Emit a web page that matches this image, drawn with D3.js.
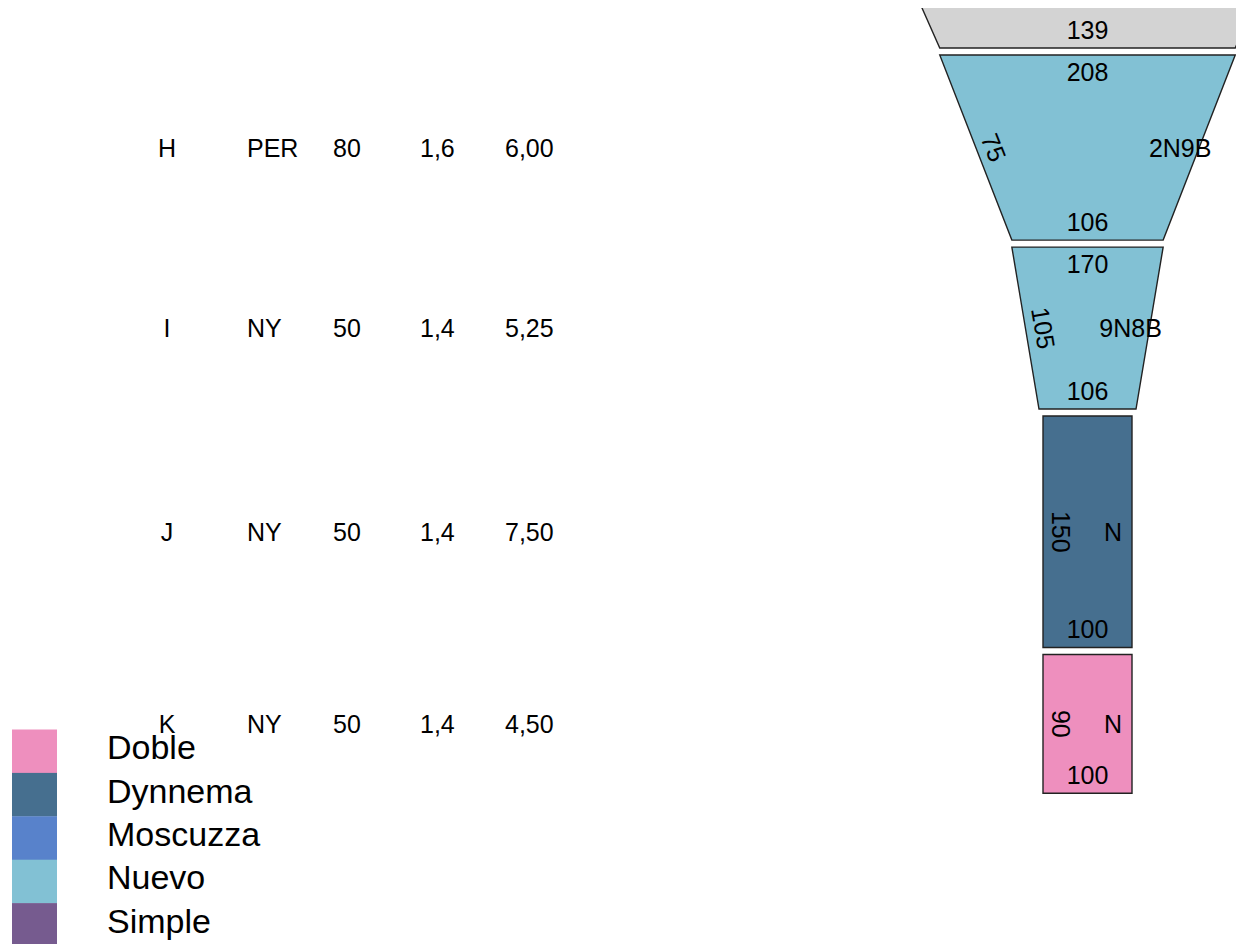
<!DOCTYPE html>
<html>
<head>
<meta charset="utf-8">
<script src="https://cdn.jsdelivr.net/npm/d3@7"></script>
<style>
  html, body { margin: 0; padding: 0; background: #fff; }
  svg { display: block; font-family: "Liberation Sans", Arial, sans-serif; }
</style>
</head>
<body>
<svg id="chart" width="1236" height="944"></svg>
<script>
// ---- data ----
const segIds      = ["G", "H", "I", "J", "K"];
const segType     = ["Otro", "Nuevo", "Nuevo", "Dynnema", "Doble"];
const segLength   = [4.00, 6.00, 5.25, 7.50, 4.50];      // metres (first one estimated, mostly off-chart)
const topWidth    = [455, 332, 170, 100, 100];           // drawn diameters
const bottomWidth = [332, 170, 109, 100, 100];
const topLabel    = ["", "208", "170", "", ""];
const bottomLabel = ["139", "106", "106", "100", "100"];
const sideLabel   = ["", "75", "105", "150", "90"];
const codeLabel   = ["", "2N9B", "9N8B", "N", "N"];

const tableLetter = ["H", "I", "J", "K"];
const tableOrigin = ["PER", "NY", "NY", "NY"];
const tableCol3   = [80, 50, 50, 50];
const tableCol4   = [1.6, 1.4, 1.4, 1.4];
const tableCol5   = [6.00, 5.25, 7.50, 4.50];

const legendCats   = ["Doble", "Dynnema", "Moscuzza", "Nuevo", "Simple"];
const legendColors = ["#EE8FBE", "#466F8F", "#5882CB", "#82C1D4", "#765B8F"];
const otherColor   = "#D3D3D3";

// ---- layout ----
const svg = d3.select("#chart");
const W = 1236, H = 944;
const cx = 1087.5;
const gapUnits = 0.227;
const plotTop = 8;

const color = d3.scaleOrdinal().domain(legendCats).range(legendColors).unknown(otherColor);
const wScale = d3.scaleLinear().domain([0, 100]).range([0, 89]);
const yScale = d3.scaleLinear().domain([0, 1]).range([-75.4, -75.4 + 30.85]);

const locale = d3.formatLocale({decimal: ",", thousands: ".", grouping: [3], currency: ["", "€"]});
const f1 = locale.format(".1f"), f2 = locale.format(".2f");

let cum = 0;
const segs = segIds.map((id, i) => {
  const start = cum;
  cum += segLength[i] + gapUnits;
  const y0 = yScale(start), y1 = yScale(start + segLength[i]);
  const ht = wScale(topWidth[i]) / 2, hb = wScale(bottomWidth[i]) / 2;
  return {id, i, y0, y1, ym: (y0 + y1) / 2, ht, hb, type: segType[i]};
});

svg.append("defs").append("clipPath").attr("id", "plotclip")
  .append("rect").attr("x", 0).attr("y", plotTop).attr("width", W).attr("height", H - plotTop);

const g = svg.append("g").attr("clip-path", "url(#plotclip)");
const fs = 25;

segs.forEach(s => {
  const pts = [[cx - s.ht, s.y0], [cx + s.ht, s.y0], [cx + s.hb, s.y1], [cx - s.hb, s.y1]];
  g.append("path")
    .attr("d", d3.line()(pts) + "Z")
    .attr("fill", color(s.type))
    .attr("stroke", "#222")
    .attr("stroke-width", 1.4);

  if (topLabel[s.i]) g.append("text").attr("x", cx).attr("y", s.y0 + 17)
    .attr("text-anchor", "middle").attr("dominant-baseline", "central")
    .attr("font-size", fs).text(topLabel[s.i]);
  if (bottomLabel[s.i]) g.append("text").attr("x", cx).attr("y", s.y1 - 18)
    .attr("text-anchor", "middle").attr("dominant-baseline", "central")
    .attr("font-size", fs).text(bottomLabel[s.i]);

  const leftMid = cx - (s.ht + s.hb) / 2, rightMid = cx + (s.ht + s.hb) / 2;
  const ang = Math.atan2(s.y1 - s.y0, (cx - s.hb) - (cx - s.ht)) * 180 / Math.PI;
  if (sideLabel[s.i]) g.append("text")
    .attr("transform", `translate(${leftMid + 18},${s.ym}) rotate(${ang})`)
    .attr("text-anchor", "middle").attr("dominant-baseline", "central")
    .attr("font-size", fs).text(sideLabel[s.i]);
  if (codeLabel[s.i]) g.append("text").attr("x", rightMid - 19).attr("y", s.ym)
    .attr("text-anchor", "middle").attr("dominant-baseline", "central")
    .attr("font-size", fs).text(codeLabel[s.i]);
});

// ---- table ----
const tbl = svg.append("g").attr("font-size", fs);
tableLetter.forEach((l, k) => {
  const s = segs[segIds.indexOf(l)];
  const y = s.ym;
  const row = [
    {x: 167, a: "middle", t: l},
    {x: 247, a: "start", t: tableOrigin[k]},
    {x: 333, a: "start", t: String(tableCol3[k])},
    {x: 420, a: "start", t: f1(tableCol4[k])},
    {x: 505, a: "start", t: f2(tableCol5[k])}
  ];
  row.forEach(c => tbl.append("text").attr("x", c.x).attr("y", y)
    .attr("text-anchor", c.a).attr("dominant-baseline", "central").text(c.t));
});

// ---- legend ----
const leg = svg.append("g");
const rowH = 43.4, legTop = 729.5;
legendCats.forEach((c, k) => {
  const y = legTop + k * rowH;
  leg.append("rect").attr("x", 12).attr("y", y).attr("width", 45).attr("height", rowH + 0.3)
    .attr("fill", color(c));
  leg.append("text").attr("x", 107).attr("y", y + rowH / 2 - 4)
    .attr("dominant-baseline", "central").attr("font-size", 34).text(c);
});
</script>
</body>
</html>
